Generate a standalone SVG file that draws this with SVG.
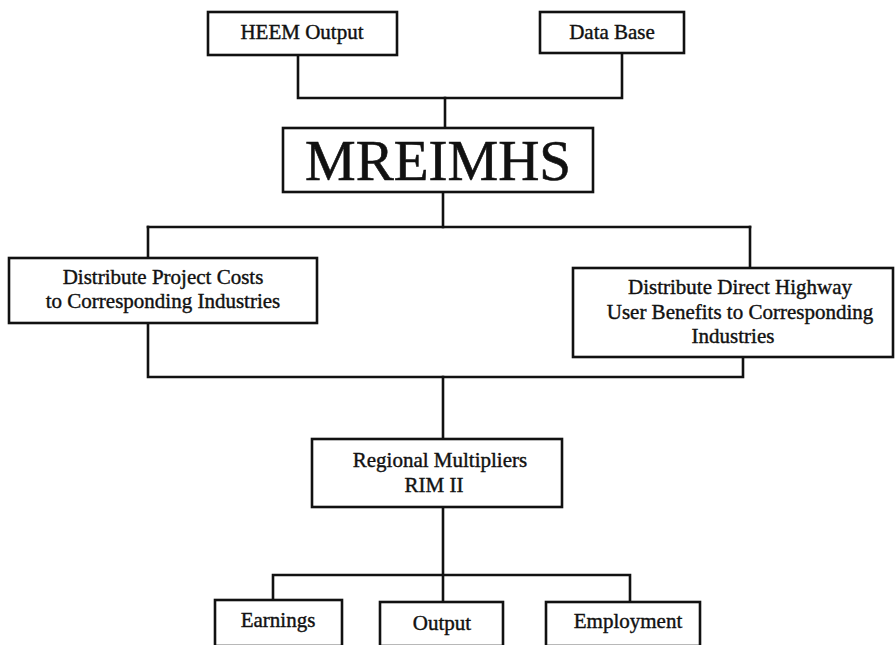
<svg xmlns="http://www.w3.org/2000/svg" width="896" height="645" viewBox="0 0 896 645">
<style>
.box{fill:#fff;stroke:#111;stroke-width:2.6}
.c{fill:none;stroke:#111;stroke-width:2.6;stroke-linecap:square}
.t{font-family:"Liberation Serif","Times New Roman",serif;font-size:21px;fill:#111;stroke:#111;stroke-width:0.4;text-anchor:middle}
.big{font-family:"Liberation Serif","Times New Roman",serif;font-size:57px;fill:#111;stroke:#111;stroke-width:0.6;text-anchor:middle}
</style>
<rect width="896" height="645" fill="#fff"/>
<g id="connectors">
<path class="c" d="M298,55 V98 H622 V53"/>
<path class="c" d="M445,98 V128"/>
<path class="c" d="M443,192 V227"/>
<path class="c" d="M148,227 H750"/>
<path class="c" d="M148,227 V258"/>
<path class="c" d="M750,227 V268"/>
<path class="c" d="M148,323 V377 H743 V357"/>
<path class="c" d="M443,377 V439"/>
<path class="c" d="M443,507 V602"/>
<path class="c" d="M273,600 V575 H630 V602"/>
</g>
<g id="heem">
<rect class="box" x="208" y="12" width="189" height="43"/>
<text class="t" x="302" y="39">HEEM Output</text>
</g>
<g id="database">
<rect class="box" x="540" y="12" width="144" height="41"/>
<text class="t" x="612" y="39">Data Base</text>
</g>
<g id="mreimhs">
<rect class="box" x="283" y="128" width="310" height="64"/>
<text class="big" x="438" y="180">MREIMHS</text>
</g>
<g id="costs">
<rect class="box" x="9" y="258" width="308" height="65"/>
<text class="t" x="163" y="284">Distribute Project Costs</text>
<text class="t" x="163" y="308">to Corresponding Industries</text>
</g>
<g id="benefits">
<rect class="box" x="573" y="268" width="320" height="89"/>
<text class="t" x="740" y="294">Distribute Direct Highway</text>
<text class="t" x="740" y="319">User Benefits to Corresponding</text>
<text class="t" x="733" y="343">Industries</text>
</g>
<g id="rim">
<rect class="box" x="312" y="439" width="250" height="68"/>
<text class="t" x="440" y="467">Regional Multipliers</text>
<text class="t" x="434" y="492">RIM II</text>
</g>
<g id="earnings">
<rect class="box" x="215" y="600" width="127" height="46"/>
<text class="t" x="278" y="627">Earnings</text>
</g>
<g id="output">
<rect class="box" x="380" y="602" width="123" height="44"/>
<text class="t" x="442" y="630">Output</text>
</g>
<g id="employment">
<rect class="box" x="546" y="602" width="154" height="44"/>
<text class="t" x="628" y="628">Employment</text>
</g>
</svg>
